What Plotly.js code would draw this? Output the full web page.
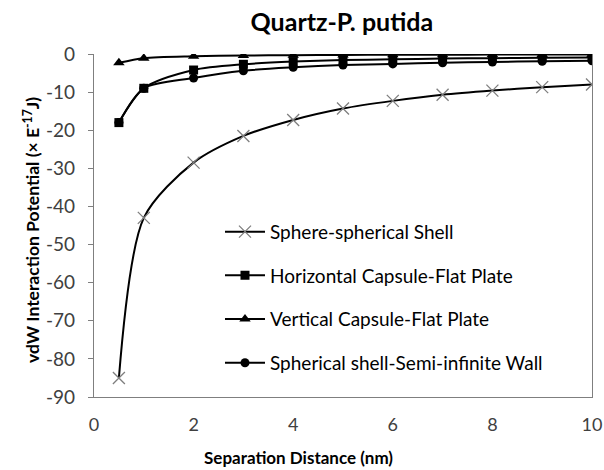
<!DOCTYPE html>
<html>
<head>
<meta charset="utf-8">
<script src="https://cdn.plot.ly/plotly-3.0.1.min.js"></script>
<style>html,body{margin:0;padding:0;background:#fff;}#chart{width:604px;height:470px;}</style>
</head>
<body>
<div id="chart"></div>
<script>
const separation = [0.5, 1, 2, 3, 4, 5, 6, 7, 8, 9, 10];
const sphereShell = [-85, -43, -28.5, -21.5, -17.3, -14.3, -12.3, -10.7, -9.6, -8.7, -8.0];
const horizCapsule = [-18, -9, -4.2, -2.7, -2.0, -1.6, -1.4, -1.2, -1.1, -1.0, -0.9];
const vertCapsule = [-2.3, -1.1, -0.6, -0.4, -0.3, -0.25, -0.2, -0.2, -0.15, -0.15, -0.12];
const shellWall = [-18, -9, -6.3, -4.4, -3.5, -2.9, -2.6, -2.3, -2.1, -1.9, -1.8];
const seriesNames = ["Sphere-spherical Shell", "Horizontal Capsule-Flat Plate", "Vertical Capsule-Flat Plate", "Spherical shell-Semi-infinite Wall"];
const yTickVals = [0, -10, -20, -30, -40, -50, -60, -70, -80, -90];
const yTickText = ["0", "-10", "-20", "-30", "-40", "-50", "-60", "-70", "-80", "-90"];
const xTickVals = [0, 2, 4, 6, 8, 10];
const xTickText = ["0", "2", "4", "6", "8", "10"];

const FONT = "Lato, 'Open Sans', sans-serif";
const line = {color: "#000", width: 2, shape: "spline", smoothing: 0.8};

function tr(y, name, marker, g) {
  return {x: separation, y: y, name: name, mode: "lines+markers", type: "scatter",
    line: line, marker: marker, legendgroup: g};
}

const traces = [
  tr(sphereShell, seriesNames[0], {symbol: "x-thin-open", size: 12, color: "#7f7f7f", line: {width: 1.3, color: "#6f6f6f"}}, "a"),
  tr(horizCapsule, seriesNames[1], {symbol: "square", size: 9, color: "#000"}, "b"),
  tr(vertCapsule, seriesNames[2], {symbol: "triangle-up", size: 10, color: "#000"}, "c"),
  tr(shellWall, seriesNames[3], {symbol: "circle", size: 9, color: "#000"}, "d")
];

const layout = {
  width: 604, height: 470,
  margin: {l: 94, r: 12, t: 54, b: 73},
  paper_bgcolor: "#fff", plot_bgcolor: "#fff",
  font: {family: FONT, color: "#000"},
  title: {text: "<b>Quartz-P. putida</b>", font: {family: FONT, size: 25, color: "#000"},
    x: 0.566, xanchor: "center", y: 0.953, yanchor: "middle"},
  showlegend: true,
  legend: {x: 0.253, y: 0.537, xanchor: "left", yanchor: "top", bgcolor: "rgba(0,0,0,0)",
    font: {family: FONT, size: 19, color: "#000"}, tracegroupgap: 16, itemwidth: 40},
  xaxis: {range: [0, 10], tickvals: xTickVals, ticktext: xTickText, ticks: "", showgrid: false, zeroline: false,
    showline: true, linecolor: "#7f7f7f", linewidth: 1.2, mirror: false,
    tickfont: {family: FONT, size: 18, color: "#404040"}, ticklabelstandoff: 11},
  xaxis2: {range: [0, 10], overlaying: "x", side: "top", anchor: "y", dtick: 1, tick0: 0,
    ticks: "outside", ticklen: 4, tickcolor: "#9a9a9a", showticklabels: false, showgrid: false,
    zeroline: false, showline: true, linecolor: "#b0b0b0", linewidth: 1},
  yaxis: {range: [-90, 0], tickvals: yTickVals, ticktext: yTickText, ticks: "outside", ticklen: 5, tickcolor: "#7f7f7f",
    showgrid: false, zeroline: false, showline: true, linecolor: "#7f7f7f", linewidth: 1.2, mirror: true,
    tickfont: {family: FONT, size: 19, color: "#404040"}, ticklabelstandoff: 9},
  annotations: [
    {text: "<b>Separation Distance (nm)</b>", xref: "paper", yref: "paper",
      x: 0.41, y: -0.175, xanchor: "center", yanchor: "middle", showarrow: false,
      font: {family: FONT, size: 17, color: "#000"}},
    {text: "<b>vdW Interaction Potential (× E<sup>-17</sup>J)</b>", xref: "paper", yref: "paper",
      x: -0.1245, y: 0.487, xanchor: "center", yanchor: "middle", textangle: -90, showarrow: false,
      font: {family: FONT, size: 17.5, color: "#000"}}
  ]
};

Plotly.newPlot("chart", traces, layout, {displayModeBar: false, staticPlot: true});
</script>
</body>
</html>
